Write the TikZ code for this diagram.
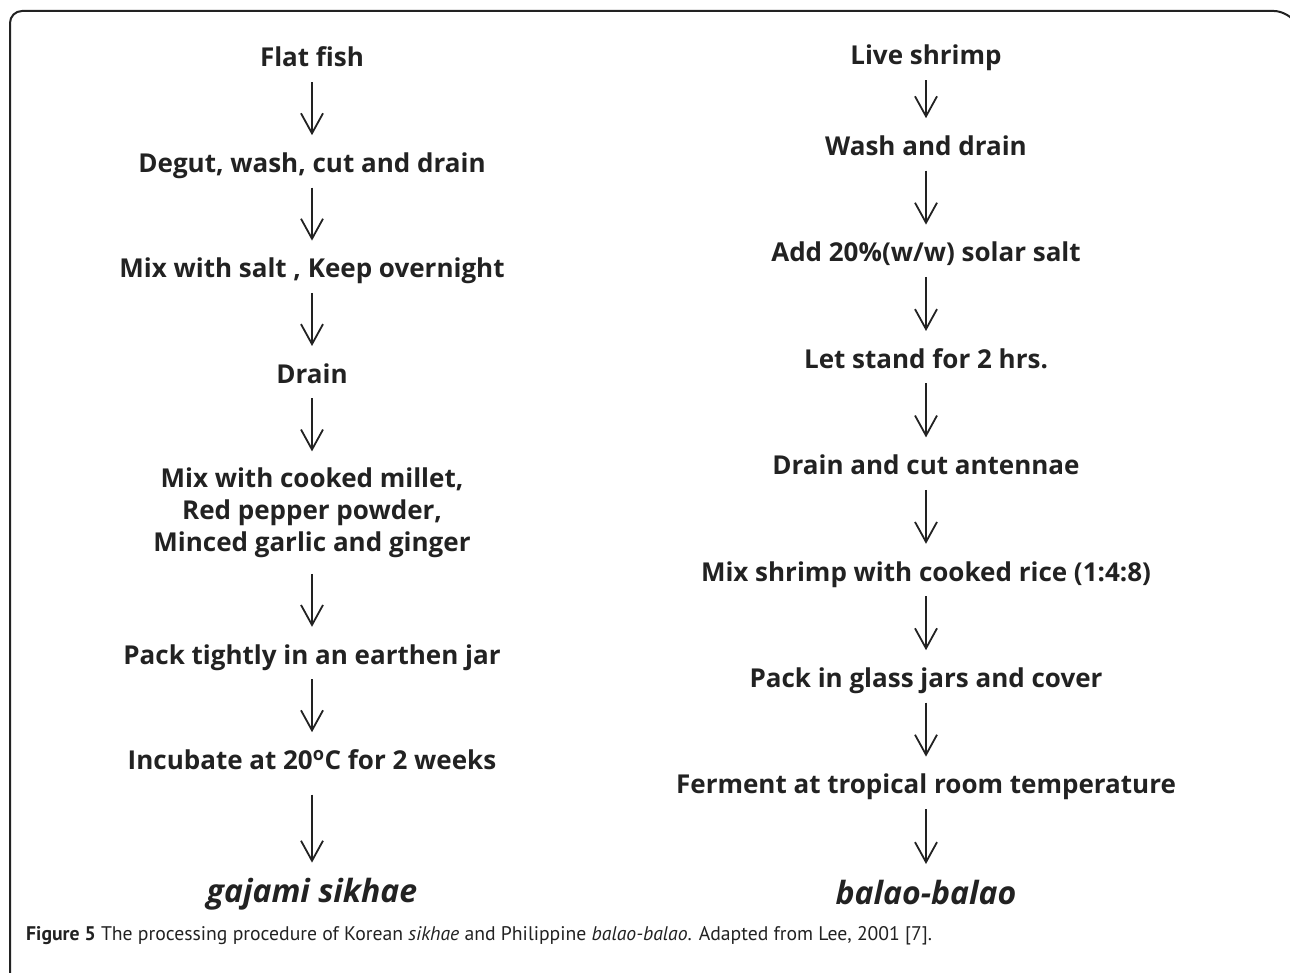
\documentclass[tikz,border=0pt]{standalone}
\usepackage{fontspec}
\setmainfont{Open Sans}
\newfontfamily\capfont{PT Sans}
\usepackage{tikz}
\usetikzlibrary{positioning, arrows.meta}
\definecolor{ink}{HTML}{222222}
\tikzstyle{stepbox} = [font=\bfseries\fontsize{26}{32}\selectfont, text=ink, text height=22pt, text depth=0pt, inner xsep=0pt, inner ysep=15pt]
\tikzstyle{multistep} = [stepbox, text height={}, text depth={}, align=center, inner ysep=16pt]
\tikzstyle{product} = [font=\bfseries\itshape\fontsize{32}{38}\selectfont, text=ink, text height=24pt, text depth=0pt, inner xsep=0pt, inner ysep=16pt]
\tikzstyle{arrow} = [draw=ink, line width=1.8pt, -{Straight Barb[length=20pt,width=22pt]}]
\tikzstyle{frame} = [draw=ink, line width=2pt, rounded corners=12pt]
\begin{document}
\begin{tikzpicture}[x=1pt, y=-1pt, node distance=53pt]
        \useasboundingbox (0,0) rectangle (1290,973);
        \draw[frame] (1290,16) -- (1286,11) -- (10,11) -- (10,985) -- (40,985);

        % sikhae
        \node[stepbox, anchor=base]                            (fish)     at (312,67) {Flat fish};
        \node[stepbox, below=of fish]                          (fish 1)   {Degut, wash, cut and drain};
        \node[stepbox, below=of fish 1]                        (fish 2)   {Mix with salt , Keep overnight};
        \node[stepbox, below=of fish 2]                        (fish 3)   {Drain};
        \node[multistep, below=of fish 3]                      (fish 4)   {Mix with cooked millet,\\Red pepper powder,\\Minced garlic and ginger};
        \node[stepbox, below=of fish 4]                        (fish 5)   {Pack tightly in an earthen jar};
        \node[stepbox, below=of fish 5]                        (fish 6)   {Incubate at 20\textsuperscript{o}C for 2 weeks};
        \node[product, below=78pt of fish 6]                   (fish 7)   {gajami sikhae};

        % balao-balao
        \node[stepbox, anchor=base]                            (shrimp)   at (926,65) {Live shrimp};
        \node[stepbox, below=38pt of shrimp]                   (shrimp 1) {Wash and drain};
        \node[stepbox, below=54pt of shrimp 1]                 (shrimp 2) {Add 20\%(w/w) solar salt};
        \node[stepbox, below=54pt of shrimp 2]                 (shrimp 3) {Let stand for 2 hrs.};
        \node[stepbox, below=54pt of shrimp 3]                 (shrimp 4) {Drain and cut antennae};
        \node[stepbox, below=54pt of shrimp 4]                 (shrimp 5) {Mix shrimp with cooked rice (1:4:8)};
        \node[stepbox, below=54pt of shrimp 5]                 (shrimp 6) {Pack in glass jars and cover};
        \node[stepbox, below=54pt of shrimp 6]                 (shrimp 7) {Ferment at tropical room temperature};
        \node[product, below=55pt of shrimp 7]                 (shrimp 8) {balao-balao};

        \node[anchor=base west, inner sep=0pt, text=ink, font=\capfont\fontsize{19.7}{23}\selectfont] (caption) at (26,940)
            {\textbf{Figure 5} The processing procedure of Korean \textit{sikhae} and Philippine \textit{balao-balao}. Adapted from Lee, 2001 [7].};

        \draw[arrow] (fish)   -- (fish 1);
        \draw[arrow] (fish 1) -- (fish 2);
        \draw[arrow] (fish 2) -- (fish 3);
        \draw[arrow] (fish 3) -- (fish 4);
        \draw[arrow] (fish 4) -- (fish 5);
        \draw[arrow] (fish 5) -- (fish 6);
        \draw[arrow, shorten <=10pt] (fish 6) -- (fish 7);

        \draw[arrow] (shrimp)   -- (shrimp 1);
        \draw[arrow] (shrimp 1) -- (shrimp 2);
        \draw[arrow] (shrimp 2) -- (shrimp 3);
        \draw[arrow] (shrimp 3) -- (shrimp 4);
        \draw[arrow] (shrimp 4) -- (shrimp 5);
        \draw[arrow] (shrimp 5) -- (shrimp 6);
        \draw[arrow] (shrimp 6) -- (shrimp 7);
        \draw[arrow] (shrimp 7) -- (shrimp 8);
    \end{tikzpicture}
\end{document}
